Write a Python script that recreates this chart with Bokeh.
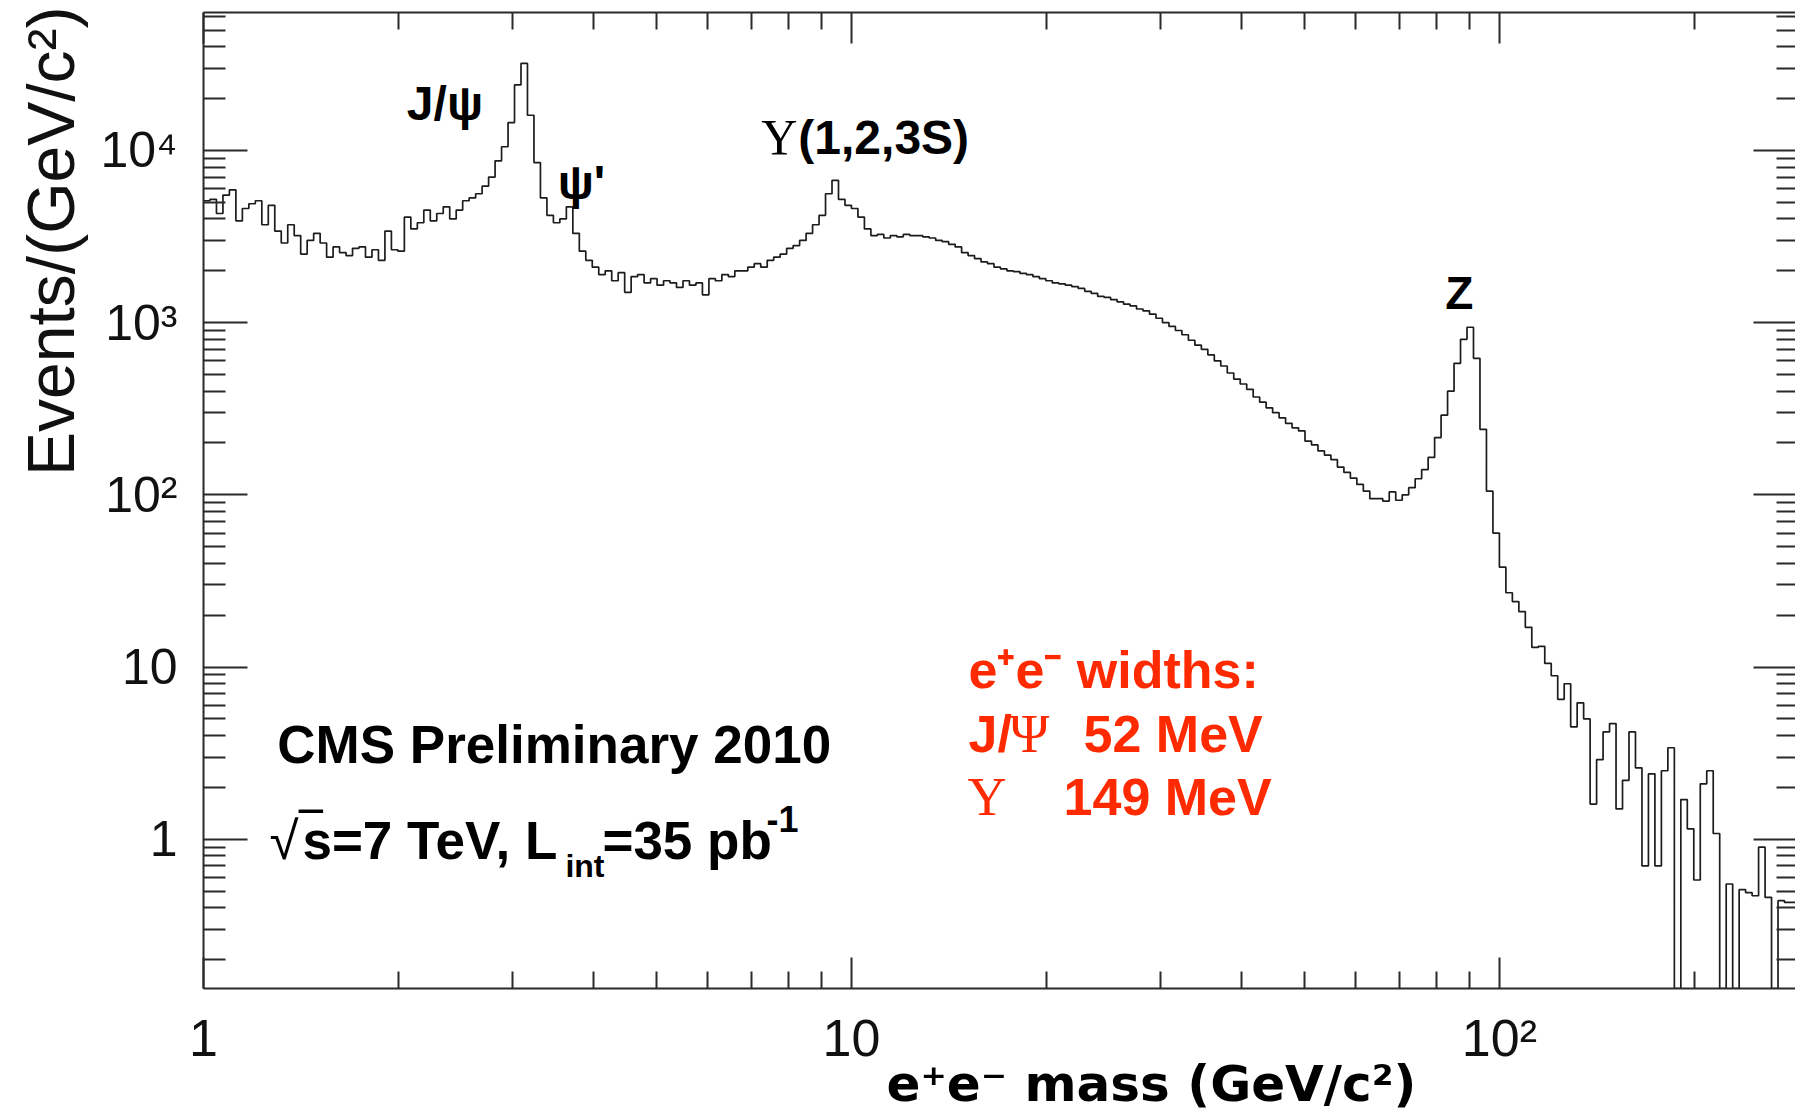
import numpy as np
from bokeh.plotting import figure
from bokeh.models import (LogAxis, FixedTicker, Label, Range1d, Title,
                          CustomJSTickFormatter)
from bokeh.embed import file_html
from bokeh.resources import INLINE

# Dielectron invariant-mass spectrum, events per GeV/c^2,
# 100 logarithmic bins per decade starting at 1 GeV/c^2.
BINS_PER_DECADE = 100
counts = [
    5100, 5200, 4300, 5500, 5900, 3900, 4600, 4900, 5100, 3700,
    4800, 3400, 2900, 3700, 3200, 2500, 3000, 3300, 2900, 2400,
    2750, 2550, 2450, 2700, 2750, 2400, 2650, 2300, 3400, 2650,
    2600, 4100, 3500, 3800, 4500, 3900, 4300, 4700, 4000, 4500,
    5100, 5300, 5600, 6200, 7000, 8700, 10500, 14500, 24000, 32000,
    16000, 8500, 5300, 4200, 3800, 4000, 4700, 3300, 2600, 2300,
    2100, 1900, 2000, 1750, 1950, 1500, 1850, 1900, 1700, 1800,
    1650, 1750, 1700, 1600, 1750, 1650, 1700, 1450, 1800, 1750,
    1900, 1850, 2000, 2000, 2100, 2200, 2100, 2300, 2400, 2500,
    2700, 2800, 3000, 3300, 3700, 4200, 5600, 6700, 5200, 4800,
    4600, 4100, 3500, 3200, 3250, 3100, 3200, 3150, 3250, 3200,
    3200, 3150, 3100, 3000, 2950, 2850, 2750, 2550, 2450, 2350,
    2250, 2200, 2100, 2050, 2000, 1980, 1930, 1900, 1850, 1800,
    1750, 1700, 1680, 1650, 1620, 1580, 1520, 1480, 1420, 1400,
    1360, 1320, 1280, 1250, 1200, 1170, 1120, 1060, 1000, 950,
    900, 850, 790, 740, 700, 650, 600, 560, 510, 470,
    440, 410, 370, 345, 320, 300, 280, 260, 245, 235,
    205, 195, 180, 170, 160, 145, 135, 125, 115, 105,
    95, 95, 92, 104, 93, 100, 110, 124, 140, 165,
    215, 290, 400, 580, 800, 940, 620, 240, 105, 60,
    38, 27, 24, 21, 17, 13, 13.2, 10.5, 8.9, 6.5,
    8.0, 4.5, 6.2, 5.0, 1.6, 2.9, 4.2, 4.7, 1.5, 2.2,
    4.2, 2.6, 0.7, 2.4, 0.7, 2.5, 3.4, 0, 1.7, 1.15,
    0.58, 2.1, 2.5, 1.08, 0, 0.55, 0, 0.51, 0.49, 0.47,
    0.9, 0.46, 0, 0.44, 0.43, 0.43,
]

x_tick_values = [1, 10, 100]
x_tick_labels = ["1", "10", "10²"]
y_tick_values = [1, 10, 100, 1000, 10000]
y_tick_labels = ["1", "10", "10²", "10³", "10⁴"]

X_MIN, X_MAX = 1.0, 286.4
Y_MIN, Y_MAX = 0.136, 63200.0

edges = 10.0 ** (np.arange(len(counts) + 1) / BINS_PER_DECADE)
vals = np.asarray(counts, dtype=float)
# empty bins drop to the bottom of the frame, as in a ROOT histogram
vals = np.where(vals > 0, vals, Y_MIN)
step_y = np.append(vals, vals[-1])

x_minor = [m * d for d in (1, 10, 100) for m in range(2, 10) if m * d < X_MAX]
y_minor = [m * d for d in (0.1, 1, 10, 100, 1000, 10000) for m in range(2, 10)
           if Y_MIN < m * d < Y_MAX]

p = figure(width=1795, height=1114, x_axis_type="log", y_axis_type="log",
           x_range=Range1d(X_MIN, X_MAX), y_range=Range1d(Y_MIN, Y_MAX),
           output_backend="svg", toolbar_location=None,
           min_border_left=203, min_border_right=0, min_border_top=12,
           min_border_bottom=126, outline_line_color=None,
           background_fill_color="white", border_fill_color="white")
p.grid.visible = False

FRAME = "#2a2a2a"
FONT = "Liberation Sans"

xt = FixedTicker(ticks=x_tick_values, minor_ticks=x_minor)
yt = FixedTicker(ticks=y_tick_values, minor_ticks=y_minor)
blank = CustomJSTickFormatter(code="return ''")


def style_axis(ax, major, minor):
    ax.major_tick_in = major
    ax.major_tick_out = 0
    ax.minor_tick_in = minor
    ax.minor_tick_out = 0
    ax.major_tick_line_color = FRAME
    ax.minor_tick_line_color = FRAME
    ax.major_tick_line_width = 2
    ax.minor_tick_line_width = 2
    ax.axis_line_color = FRAME
    ax.axis_line_width = 2


xb = p.below[0]
xb.ticker = xt
style_axis(xb, 31, 17)
xb.major_label_overrides = {float(v): t for v, t in zip(x_tick_values, x_tick_labels)}
xb.major_label_text_font = FONT
xb.major_label_text_font_size = "52px"
xb.major_label_text_color = "#111111"
xb.major_label_standoff = 20

yl = p.left[0]
yl.ticker = yt
style_axis(yl, 44, 22)
yl.major_label_overrides = {float(v): t for v, t in zip(y_tick_values, y_tick_labels)}
yl.major_label_text_font = FONT
yl.major_label_text_font_size = "50px"
yl.major_label_text_color = "#111111"
yl.major_label_standoff = 26

top = LogAxis(ticker=xt, formatter=blank, major_label_standoff=0)
style_axis(top, 31, 17)
p.add_layout(top, "above")

right = LogAxis(ticker=yt, formatter=blank, major_label_standoff=0)
style_axis(right, 42, 19)
right.axis_line_color = None
p.add_layout(right, "right")

# axis titles
p.add_layout(Title(text="Events/(GeV/c²)", align="right", offset=-6, standoff=20,
                   text_font=FONT, text_font_size="66px", text_font_style="normal",
                   text_color="#111111"), "left")
p.add_layout(Title(text="e⁺e⁻ mass (GeV/c²)", align="left", offset=683, standoff=-30,
                   vertical_align="top", text_font="DejaVu Sans", text_font_size="50px",
                   text_font_style="bold", text_color="black"), "below")

p.step(x=edges, y=step_y, mode="after", line_color="#1c1c1c", line_width=1.7)


def note(x, y, text, size, color="black", bold=True, font=FONT, dx=0, dy=18):
    p.add_layout(Label(x=x, y=y, x_offset=dx, y_offset=dy, text=text,
                       text_font=font, text_font_size=f"{size}px",
                       text_font_style="bold" if bold else "normal",
                       text_color=color, text_align="left",
                       text_baseline="alphabetic"))


# resonance labels
note(2.06, 15100, "J/ψ", 48, dy=16)
note(3.52, 5340, "ψ'", 48, dy=15)
note(7.26, 9350, "Υ", 50, bold=False, font="Liberation Serif")
note(7.26, 9350, "(1,2,3S)", 48, dx=37)
note(82.5, 1226, "Z", 46, dy=14)

# experiment caption
note(1.30, 2.80, "CMS Preliminary 2010", 53)
note(1.264, 0.765, "√", 53, bold=False, dy=19)
note(1.264, 0.765, "‾", 62, bold=False, dx=31, dy=23)
note(1.264, 0.765, "s=7 TeV, L", 53, dx=33, dy=19)
note(1.264, 0.765, "int", 32, dx=296, dy=-7)
note(1.264, 0.765, "=35 pb", 53, dx=333, dy=19)
note(1.264, 0.765, "-1", 36, dx=497, dy=40)

# measured mass resolutions
RED = "#ff2a00"
note(15.16, 7.53, "e⁺e⁻ widths:", 52, color=RED)
note(15.16, 3.20, "J/", 52, color=RED)
note(15.16, 3.20, "Ψ", 54, color=RED, bold=False, font="Liberation Serif", dx=41)
note(15.16, 3.20, "52 MeV", 52, color=RED, dx=115)
note(15.16, 1.378, "Υ", 54, color=RED, bold=False, font="Liberation Serif", dx=-1)
note(15.16, 1.378, "149 MeV", 52, color=RED, dx=95)

open("out.html", "w").write(file_html(p, INLINE))
